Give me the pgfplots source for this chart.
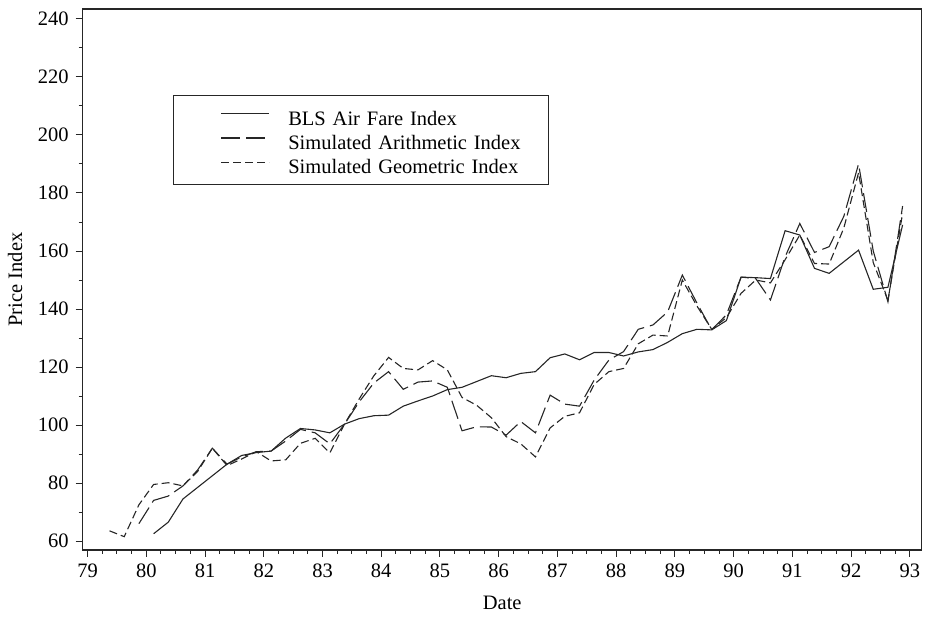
\documentclass[border=0pt]{standalone}
\usepackage{fontspec}
\setmainfont{Liberation Serif}
\usepackage{pgfplots}
\pgfplotsset{compat=1.18}
\pgfplotstableread{
t v
80.125 62.5
80.375 66.5
80.625 74.5
80.875 78.5
81.125 82.5
81.375 86.5
81.625 89.5
81.875 90.5
82.125 91.0
82.375 95.5
82.625 98.8
82.875 98.3
83.125 97.3
83.375 100.3
83.625 102.2
83.875 103.2
84.125 103.4
84.375 106.5
84.625 108.3
84.875 110.0
85.125 112.2
85.375 113.0
85.625 115.0
85.875 117.0
86.125 116.3
86.375 117.8
86.625 118.4
86.875 123.2
87.125 124.5
87.375 122.5
87.625 125.0
87.875 125.0
88.125 123.8
88.375 125.2
88.625 126.0
88.875 128.5
89.125 131.5
89.375 133.0
89.625 132.8
89.875 136.0
90.125 151.0
90.375 150.8
90.625 150.5
90.875 167.0
91.125 165.5
91.375 154.0
91.625 152.3
91.875 156.3
92.125 160.3
92.375 146.8
92.625 147.5
92.875 169.0
}\bls
\pgfplotstableread{
t v
79.875 66.0
80.125 74.0
80.375 75.5
80.625 79.0
80.875 84.5
81.125 92.0
81.375 86.5
81.625 89.0
81.875 90.8
82.125 91.0
82.375 94.5
82.625 98.5
82.875 97.3
83.125 93.5
83.375 100.3
83.625 108.0
83.875 114.5
84.125 118.4
84.375 112.3
84.625 114.8
84.875 115.2
85.125 113.0
85.375 98.0
85.625 99.4
85.875 99.3
86.125 96.5
86.375 101.2
86.625 97.3
86.875 110.3
87.125 107.2
87.375 106.5
87.625 115.5
87.875 122.4
88.125 125.3
88.375 133.0
88.625 134.5
88.875 139.0
89.125 151.7
89.375 142.0
89.625 132.8
89.875 138.0
90.125 151.0
90.375 150.5
90.625 143.1
90.875 158.0
91.125 169.5
91.375 159.5
91.625 161.5
91.875 172.0
92.125 190.0
92.375 160.0
92.625 142.5
92.875 175.5
}\arith
\pgfplotstableread{
t v
79.375 63.5
79.625 61.5
79.875 72.5
80.125 79.5
80.375 80.1
80.625 79.0
80.875 84.0
81.125 92.0
81.375 86.0
81.625 88.3
81.875 90.8
82.125 87.6
82.375 88.0
82.625 93.7
82.875 95.4
83.125 90.4
83.375 100.3
83.625 109.0
83.875 117.0
84.125 123.3
84.375 119.5
84.625 119.0
84.875 122.2
85.125 119.0
85.375 109.5
85.625 106.8
85.875 102.5
86.125 96.0
86.375 93.5
86.625 89.0
86.875 99.0
87.125 103.0
87.375 104.2
87.625 114.0
87.875 118.4
88.125 119.5
88.375 128.0
88.625 131.0
88.875 130.7
89.125 150.0
89.375 141.0
89.625 133.0
89.875 137.0
90.125 145.4
90.375 150.0
90.625 149.0
90.875 157.0
91.125 165.5
91.375 155.7
91.625 155.5
91.875 168.0
92.125 187.0
92.375 156.0
92.625 143.0
92.875 173.0
}\geom
\begin{document}
\fontsize{20.5}{24}\selectfont
\begin{tikzpicture}
\useasboundingbox (-82.7pt,-70pt) rectangle (848.3pt,550pt);
\begin{axis}[
  at={(0pt,0pt)}, anchor=south west,
  scale only axis, width=839pt, height=541pt,
  xmin=78.918, xmax=93.2, ymin=56.9, ymax=243.45,
  axis line style={line width=1.1pt, black!85},
  xtick={79,80,...,93},
  ytick={60,80,...,240},
  minor x tick num=3,
  minor y tick num=1,
  tick align=outside,
  xtick pos=left, ytick pos=left,
  major tick length=7pt, minor tick length=4pt,
  every tick/.style={line width=1.0pt, black!85},
  /pgf/number format/assume math mode=true,
  xticklabel={\pgfmathprintnumber[int trunc]{\tick}},
  x tick label style={font=\fontsize{20.5}{24}\selectfont, /pgf/number format/1000 sep={}},
  y tick label style={font=\fontsize{20.5}{24}\selectfont},
  xlabel={Date}, ylabel={Price Index},
  xlabel style={font=\fontsize{20.5}{24}\selectfont, at={(rel axis cs:0.5,0)}, anchor=center, yshift=-53pt},
  ylabel style={font=\fontsize{20.5}{24}\selectfont, at={(rel axis cs:0,0.5)}, anchor=center, rotate=0, yshift=67.7pt},
  legend style={at={(rel axis cs:0.1076,0.841)}, anchor=north west,
    draw=black!85, line width=1.0pt, inner xsep=0pt, inner ysep=8.2pt,
    column sep=0pt, font=\fontsize{20.5}{24}\selectfont,
    nodes={inner sep=0pt, text height=21.8pt, text depth=2.4pt}},
  legend cell align=left,
  legend image code/.code={\path (0pt,0pt); \draw[#1, line width=1.1pt] (47pt,2pt) -- (95pt,2pt); \path (113.7pt,0pt);},
  legend style={cells={text width=260.3pt}},
]
\addplot[black!85, line width=1.1pt] table[x=t,y=v]{\bls};
\addplot[black!85, line width=1.1pt, dash pattern=on 19pt off 6pt] table[x=t,y=v]{\arith};
\addplot[black!85, line width=1.1pt, dash pattern=on 8pt off 4pt] table[x=t,y=v]{\geom};
\legend{BLS Air Fare Index, Simulated Arithmetic Index, Simulated Geometric Index}
\end{axis}
\end{tikzpicture}
\end{document}
